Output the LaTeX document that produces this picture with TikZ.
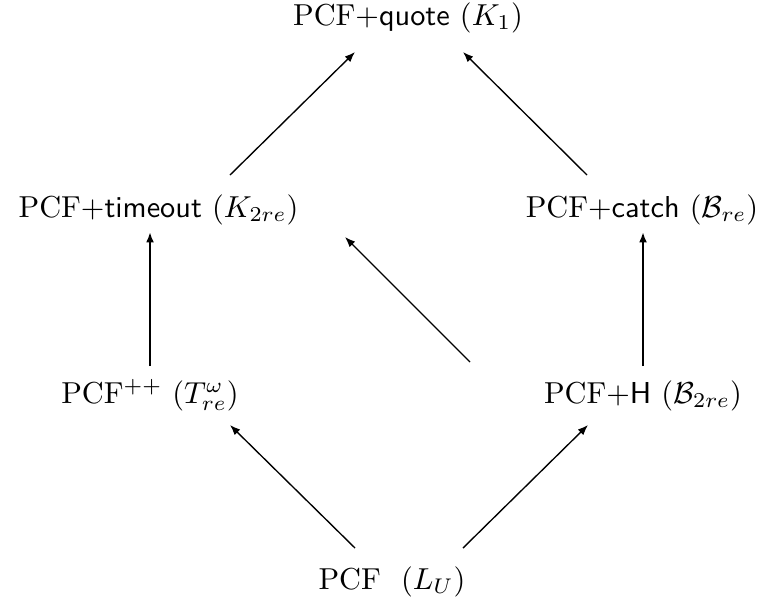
\documentclass[tikz,border=0pt]{standalone}
\usetikzlibrary{calc,arrows.meta}
\begin{document}
\begin{tikzpicture}[x=0.33pt,y=-0.33pt,
  lbl/.style={inner sep=0pt,anchor=base,font=\fontsize{10}{12}\selectfont},
  arr/.style={line width=0.45pt,-{Latex[length=3.4pt,width=2.6pt]}},
  varr/.style={line width=0.9pt,-{Latex[length=3.4pt,width=2.6pt]}}]
\useasboundingbox (0,0) rectangle (761,603);
\node[lbl] (Q) at (408,25) {PCF+\textsf{quote} $(K_1)$};
\node[lbl] (TO) at (158.5,217) {PCF+\textsf{timeout} $(K_{2re})$};
\node[lbl] (C) at (642,217) {PCF+\textsf{catch} $(\mathcal{B}_{re})$};
\node[lbl] (T) at (150,403) {PCF$^{++}$ $(T^{\omega}_{re})$};
\node[lbl] (H) at (643,403) {PCF+\textsf{H} $(\mathcal{B}_{2re})$};
\node[lbl] (L) at (392,589) {PCF\ \ $(L_U)$};
\draw[arr] ($(L.base)+(-37,-41)$) -- ($(T.base)+(80,22)$);
\draw[arr] ($(L.base)+(71,-41)$) -- ($(H.base)+(-55,22)$);
\draw[varr] ($(T.base)+(0,-37)$) -- ($(TO.base)+(-8.5,15)$);
\draw[varr] ($(H.base)+(0,-37)$) -- ($(C.base)+(1,15)$);
\draw[arr] ($(H.base)+(-173,-41)$) -- ($(TO.base)+(186.5,20)$);
\draw[arr] ($(TO.base)+(71.5,-42)$) -- ($(Q.base)+(-53,27)$);
\draw[arr] ($(C.base)+(-55,-42)$) -- ($(Q.base)+(55,27)$);
\end{tikzpicture}
\end{document}
